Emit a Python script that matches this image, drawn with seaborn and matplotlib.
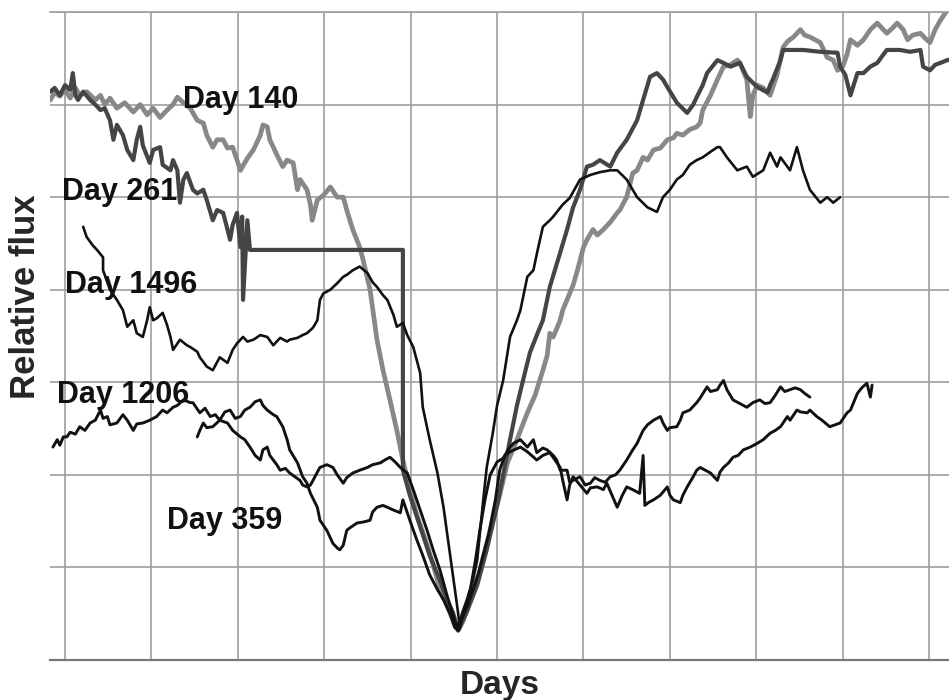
import matplotlib
matplotlib.use("Agg")
import matplotlib.pyplot as plt
import seaborn as sns

# Light curves (x: grid units of time, y: grid units of relative flux)
day140_x = [-0.17, -0.12, -0.06, 0.00, 0.06, 0.12, 0.17, 0.25, 0.35, 0.41, 0.46, 0.52, 0.60, 0.69, 0.79,
            0.87, 0.95, 1.02, 1.10, 1.18, 1.25, 1.30, 1.37, 1.45, 1.48, 1.53, 1.60, 1.64, 1.71, 1.76,
            1.83, 1.88, 1.94, 1.99, 2.03, 2.11, 2.18, 2.26, 2.29, 2.34, 2.37, 2.41, 2.45, 2.52, 2.57,
            2.64, 2.69, 2.72, 2.80, 2.84, 2.86, 2.92, 2.99, 3.07, 3.15, 3.22, 3.26, 3.33, 3.41, 3.45,
            3.53, 3.61, 3.68, 3.76, 3.84, 3.91, 3.99, 4.07, 4.17, 4.26, 4.34, 4.42, 4.51, 4.55,
            4.61, 4.69, 4.80, 4.92, 5.03, 5.12, 5.23, 5.35, 5.44, 5.53, 5.58, 5.61, 5.65, 5.73, 5.76,
            5.84, 5.88, 5.93, 6.00, 6.04, 6.11, 6.16, 6.23, 6.31, 6.39, 6.42, 6.50, 6.57, 6.62, 6.69,
            6.74, 6.81, 6.89, 6.97, 7.04, 7.08, 7.15, 7.23, 7.31, 7.35, 7.38, 7.47, 7.55, 7.62, 7.70,
            7.78, 7.81, 7.89, 7.93, 7.96, 8.01, 8.08, 8.16, 8.24, 8.31, 8.36, 8.43, 8.51, 8.56, 8.62,
            8.68, 8.74, 8.82, 8.89, 8.94, 9.00, 9.05, 9.09, 9.17, 9.24, 9.32, 9.40, 9.47, 9.51, 9.58,
            9.63, 9.70, 9.75, 9.81, 9.90, 9.95, 10.01, 10.07, 10.13, 10.21, 10.30]
day140_y = [6.05, 6.13, 6.09, 6.16, 6.07, 6.18, 6.10, 6.14, 6.05, 6.10, 6.00, 6.07, 5.96, 6.02, 5.92,
            6.00, 5.89, 5.96, 5.86, 5.94, 6.00, 6.08, 6.02, 5.96, 5.91, 5.83, 5.80, 5.67, 5.54, 5.62,
            5.62, 5.53, 5.54, 5.40, 5.29, 5.42, 5.51, 5.67, 5.78, 5.76, 5.62, 5.54, 5.46, 5.33, 5.40,
            5.37, 5.08, 5.19, 5.08, 4.92, 4.75, 4.97, 5.02, 5.11, 5.00, 5.00, 4.86, 4.65, 4.46, 4.32,
            4.00, 3.46, 3.13, 2.81, 2.48, 2.16, 1.84, 1.57, 1.30, 1.03, 0.76, 0.59, 0.38, 0.32,
            0.43, 0.65, 0.97, 1.40, 1.78, 2.13, 2.38, 2.67, 2.86, 3.13, 3.29, 3.53, 3.49, 3.67, 3.78,
            3.96, 4.05, 4.21, 4.46, 4.54, 4.65, 4.59, 4.65, 4.73, 4.83, 4.86, 5.00, 5.26, 5.29, 5.43,
            5.40, 5.51, 5.53, 5.62, 5.64, 5.69, 5.67, 5.73, 5.76, 5.80, 5.94, 6.10, 6.27, 6.41, 6.43,
            6.48, 6.45, 6.27, 5.87, 6.10, 6.21, 6.18, 6.10, 6.32, 6.62, 6.68, 6.73, 6.81, 6.75, 6.73,
            6.70, 6.67, 6.51, 6.48, 6.37, 6.41, 6.54, 6.70, 6.64, 6.70, 6.81, 6.88, 6.81, 6.77, 6.83,
            6.88, 6.81, 6.70, 6.75, 6.77, 6.72, 6.67, 6.81, 6.91, 7.02, 7.08]

day261_x = [-0.17, -0.12, -0.06, 0.00, 0.06, 0.09, 0.12, 0.15, 0.21, 0.29, 0.35, 0.41, 0.46, 0.52, 0.56,
            0.60, 0.67, 0.72, 0.79, 0.83, 0.87, 0.90, 0.98, 1.02, 1.10, 1.13, 1.22, 1.25, 1.30, 1.33,
            1.37, 1.41, 1.48, 1.53, 1.60, 1.64, 1.71, 1.76, 1.83, 1.88, 1.91, 1.94, 1.99, 2.03, 2.05,
            2.06, 2.11, 2.14, 3.91, 3.91, 3.99, 4.11, 4.22, 4.34, 4.42, 4.49, 4.55,
            4.65, 4.77, 4.88, 5.00, 5.07, 5.15, 5.23, 5.30, 5.38, 5.46, 5.53, 5.61, 5.73, 5.81, 5.88,
            5.96, 6.04, 6.11, 6.19, 6.31, 6.39, 6.50, 6.62, 6.69, 6.77, 6.85, 6.92, 6.97, 7.08, 7.20,
            7.27, 7.31, 7.38, 7.43, 7.55, 7.62, 7.70, 7.81, 7.89, 8.01, 8.13, 8.16, 8.19, 8.28, 8.31,
            8.54, 8.74, 8.94, 8.97, 9.03, 9.09, 9.17, 9.24, 9.32, 9.40, 9.47, 9.51, 9.66, 9.78, 9.90,
            9.93, 10.01, 10.07, 10.13, 10.21, 10.30]
day261_y = [6.14, 6.18, 6.10, 6.21, 6.16, 6.34, 6.10, 6.05, 6.14, 6.05, 6.00, 5.94, 5.96, 5.83, 5.62,
            5.78, 5.67, 5.51, 5.40, 5.62, 5.76, 5.56, 5.37, 5.51, 5.54, 5.35, 5.29, 5.40, 5.29, 4.94,
            5.19, 5.26, 5.08, 5.04, 5.08, 4.97, 4.75, 4.86, 4.83, 4.65, 4.54, 4.70, 4.83, 4.46, 4.79,
            3.89, 4.75, 4.43, 4.43, 2.05, 1.78, 1.44, 1.13, 0.86, 0.65, 0.51, 0.32,
            0.52, 0.81, 1.19, 1.67, 2.00, 2.38, 2.75, 3.02, 3.32, 3.51, 3.67, 4.03, 4.40, 4.65, 4.89,
            5.08, 5.33, 5.35, 5.40, 5.33, 5.48, 5.62, 5.83, 6.05, 6.30, 6.34, 6.27, 6.19, 6.02, 5.91,
            6.00, 6.08, 6.21, 6.34, 6.48, 6.45, 6.41, 6.45, 6.30, 6.19, 6.13, 6.21, 6.27, 6.48, 6.59,
            6.59, 6.57, 6.56, 6.41, 6.32, 6.10, 6.34, 6.34, 6.41, 6.45, 6.54, 6.59, 6.59, 6.57, 6.59,
            6.41, 6.37, 6.43, 6.45, 6.48, 6.50]

day1496_x = [0.21, 0.25, 0.32, 0.37, 0.44, 0.44, 0.52, 0.60, 0.67, 0.72, 0.79, 0.83, 0.90, 0.95, 0.98,
             1.02, 1.06, 1.13, 1.18, 1.22, 1.25, 1.33, 1.41, 1.45, 1.53, 1.56, 1.64, 1.71, 1.79, 1.88,
             1.94, 1.99, 2.06, 2.11, 2.18, 2.26, 2.34, 2.41, 2.49, 2.57, 2.60, 2.69, 2.75, 2.80, 2.87,
             2.92, 2.95, 2.99, 3.07, 3.15, 3.22, 3.26, 3.33, 3.41, 3.50, 3.56, 3.61, 3.68, 3.73, 3.80,
             3.84, 3.91, 3.96, 4.03, 4.11, 4.14, 4.22, 4.31, 4.38, 4.46, 4.54, 4.57,
             4.59, 4.65, 4.72, 4.77, 4.84, 4.88, 4.95, 5.00, 5.07, 5.15, 5.23, 5.27, 5.35, 5.42, 5.47,
             5.53, 5.61, 5.65, 5.76, 5.84, 5.96, 6.08, 6.19, 6.31, 6.39, 6.50, 6.62, 6.74, 6.85, 6.92,
             7.00, 7.08, 7.15, 7.23, 7.31, 7.38, 7.47, 7.55, 7.58, 7.66, 7.78, 7.89, 7.96, 8.08, 8.16,
             8.24, 8.28, 8.39, 8.47, 8.54, 8.62, 8.74, 8.82, 8.89, 8.97]
day1496_y = [4.68, 4.57, 4.48, 4.43, 4.35, 4.21, 4.00, 3.89, 3.78, 3.60, 3.67, 3.53, 3.49, 3.67, 3.81,
             3.67, 3.69, 3.75, 3.62, 3.49, 3.35, 3.46, 3.40, 3.38, 3.33, 3.27, 3.17, 3.13, 3.27, 3.21,
             3.35, 3.42, 3.49, 3.44, 3.46, 3.51, 3.49, 3.40, 3.48, 3.44, 3.46, 3.48, 3.51, 3.53, 3.59,
             3.67, 3.89, 3.96, 4.00, 4.07, 4.14, 4.16, 4.21, 4.25, 4.18, 4.08, 4.03, 3.94, 3.89, 3.73,
             3.60, 3.64, 3.51, 3.38, 3.10, 2.73, 2.38, 2.02, 1.65, 1.11, 0.57, 0.35,
             0.49, 0.65, 0.86, 1.08, 1.73, 2.08, 2.45, 2.75, 3.02, 3.49, 3.67, 3.78, 4.14, 4.21, 4.43,
             4.68, 4.75, 4.79, 4.92, 4.99, 5.19, 5.24, 5.27, 5.29, 5.29, 5.19, 5.00, 4.89, 4.84, 5.00,
             5.08, 5.19, 5.24, 5.35, 5.40, 5.43, 5.49, 5.54, 5.54, 5.43, 5.29, 5.33, 5.22, 5.29, 5.48,
             5.33, 5.43, 5.29, 5.54, 5.29, 5.08, 4.94, 5.00, 4.94, 5.00]

day1206_x = [-0.14, -0.09, -0.06, -0.02, 0.02, 0.06, 0.12, 0.17, 0.23, 0.29, 0.35, 0.41, 0.44, 0.49, 0.52,
             0.60, 0.67, 0.72, 0.79, 0.83, 0.90, 0.98, 1.06, 1.13, 1.18, 1.25, 1.30, 1.37, 1.45, 1.48,
             1.56, 1.62, 1.68, 1.74, 1.79, 1.85, 1.91, 1.97, 2.03, 2.08, 2.14, 2.20, 2.26, 2.29, 2.34,
             2.41, 2.45, 2.52, 2.57, 2.60, 2.69, 2.75, 2.80, 2.84, 2.92, 2.95, 3.03, 3.10, 3.15, 3.18,
             3.22, 3.26, 3.30, 3.38, 3.45, 3.53, 3.56, 3.61, 3.68, 3.73, 3.80, 3.88, 3.91, 3.99, 4.07,
             4.14, 4.22, 4.31, 4.38, 4.46, 4.51, 4.55,
             4.63, 4.69, 4.75, 4.80, 4.86, 4.92, 5.00, 5.07, 5.15, 5.19, 5.27, 5.35, 5.42, 5.46, 5.53,
             5.58, 5.65, 5.69, 5.73, 5.81, 5.84, 5.88, 5.96, 6.02, 6.08, 6.13, 6.19, 6.25, 6.31, 6.37,
             6.42, 6.50, 6.57, 6.62, 6.69, 6.74, 6.81, 6.89, 6.92, 6.97, 7.00, 7.08, 7.12, 7.15, 7.23,
             7.31, 7.35, 7.43, 7.47, 7.55, 7.58, 7.62, 7.66, 7.73, 7.81, 7.89, 7.96, 8.04, 8.10, 8.16,
             8.22, 8.28, 8.33, 8.39, 8.45, 8.51, 8.56, 8.62]
day1206_y = [2.30, 2.38, 2.32, 2.41, 2.41, 2.46, 2.44, 2.52, 2.48, 2.56, 2.59, 2.70, 2.61, 2.63, 2.54,
             2.56, 2.65, 2.59, 2.48, 2.55, 2.56, 2.59, 2.63, 2.70, 2.67, 2.73, 2.75, 2.81, 2.78, 2.78,
             2.67, 2.72, 2.63, 2.65, 2.59, 2.68, 2.70, 2.61, 2.63, 2.70, 2.73, 2.79, 2.81, 2.75, 2.70,
             2.65, 2.63, 2.52, 2.38, 2.27, 2.13, 1.98, 1.91, 1.80, 1.65, 1.51, 1.40, 1.26, 1.21, 1.19,
             1.24, 1.40, 1.43, 1.48, 1.49, 1.51, 1.60, 1.65, 1.67, 1.65, 1.62, 1.59, 1.73, 1.51, 1.30,
             1.13, 0.92, 0.76, 0.65, 0.49, 0.35, 0.32,
             0.54, 0.76, 1.08, 1.40, 1.73, 2.00, 2.14, 2.18, 2.30, 2.34, 2.38, 2.30, 2.38, 2.24, 2.29,
             2.27, 2.21, 2.16, 2.05, 2.05, 1.92, 1.94, 1.98, 1.89, 1.91, 1.97, 1.94, 1.92, 1.98, 2.00,
             2.05, 2.16, 2.27, 2.34, 2.48, 2.54, 2.59, 2.63, 2.56, 2.48, 2.51, 2.52, 2.59, 2.67, 2.70,
             2.78, 2.83, 2.95, 2.90, 2.92, 2.97, 3.02, 2.92, 2.81, 2.77, 2.73, 2.78, 2.81, 2.77, 2.78,
             2.86, 2.95, 2.90, 2.92, 2.94, 2.92, 2.88, 2.84]

day359_x = [1.53, 1.56, 1.60, 1.64, 1.71, 1.79, 1.88, 1.94, 2.03, 2.08, 2.14, 2.20, 2.26, 2.29, 2.34,
            2.37, 2.41, 2.45, 2.49, 2.55, 2.60, 2.66, 2.72, 2.75, 2.80, 2.84, 2.87, 2.92, 2.95, 3.03,
            3.10, 3.15, 3.22, 3.26, 3.33, 3.41, 3.50, 3.56, 3.65, 3.70, 3.76, 3.82, 3.88, 3.96, 4.03,
            4.11, 4.19, 4.26, 4.34, 4.42, 4.49, 4.54,
            4.66, 4.78, 4.90, 4.98, 5.03, 5.09, 5.15, 5.27, 5.35, 5.46, 5.53, 5.61, 5.67, 5.73, 5.76,
            5.81, 5.84, 5.88, 5.96, 6.04, 6.08, 6.16, 6.23, 6.27, 6.33, 6.39, 6.45, 6.50, 6.57, 6.65,
            6.69, 6.71, 6.75, 6.81, 6.89, 6.97, 7.00, 7.04, 7.12, 7.15, 7.20, 7.27, 7.31, 7.35, 7.41,
            7.47, 7.55, 7.58, 7.62, 7.68, 7.73, 7.79, 7.85, 7.93, 8.01, 8.08, 8.16, 8.22, 8.28, 8.36,
            8.39, 8.47, 8.51, 8.59, 8.62, 8.70, 8.76, 8.85, 8.91, 8.97, 9.05, 9.09, 9.17, 9.22, 9.28,
            9.32, 9.34]
day359_y = [2.41, 2.48, 2.56, 2.51, 2.52, 2.59, 2.56, 2.48, 2.41, 2.38, 2.30, 2.21, 2.16, 2.27, 2.30,
            2.21, 2.16, 2.11, 2.05, 2.07, 2.02, 1.98, 1.94, 1.89, 1.87, 1.89, 1.94, 2.03, 2.08, 2.11,
            2.08, 2.00, 1.91, 1.97, 2.02, 2.05, 2.08, 2.11, 2.13, 2.16, 2.19, 2.14, 2.08, 2.02, 1.84,
            1.62, 1.40, 1.19, 0.97, 0.70, 0.49, 0.35,
            0.59, 0.92, 1.35, 1.73, 2.05, 2.21, 2.25, 2.30, 2.25, 2.16, 2.21, 2.24, 2.16, 2.08, 1.94,
            1.73, 1.89, 1.98, 1.89, 1.80, 1.86, 1.87, 1.84, 1.91, 1.78, 1.65, 1.78, 1.87, 1.84, 1.80,
            2.21, 1.67, 1.70, 1.73, 1.78, 1.87, 1.78, 1.73, 1.70, 1.78, 1.87, 1.98, 2.05, 2.08, 2.05,
            2.02, 1.94, 2.03, 2.08, 2.13, 2.19, 2.21, 2.27, 2.30, 2.34, 2.38, 2.45, 2.48, 2.52, 2.63,
            2.59, 2.70, 2.68, 2.67, 2.70, 2.63, 2.59, 2.52, 2.54, 2.56, 2.67, 2.70, 2.88, 2.94, 2.99,
            2.84, 2.97]

curves = [
    ("Day 140", day140_x, day140_y, "#888888", 3.4),
    ("Day 261", day261_x, day261_y, "#454545", 3.0),
    ("Day 1496", day1496_x, day1496_y, "#111111", 1.9),
    ("Day 1206", day1206_x, day1206_y, "#111111", 2.1),
    ("Day 359", day359_x, day359_y, "#111111", 2.1),
]

# label text, left x, baseline y
label_names = ["Day 140", "Day 261", "Day 1496", "Day 1206", "Day 359"]
label_x = [1.37, -0.03, 0.00, -0.09, 1.18]
label_y = [5.96, 4.97, 3.96, 2.78, 1.42]

sns.set_theme(style="whitegrid")
plt.rcParams["font.family"] = ["Liberation Sans", "DejaVu Sans"]

fig = plt.figure(figsize=(9.49, 7), dpi=100)
ax = fig.add_axes([50 / 949, 40 / 700, 899 / 949, 648 / 700])

for name, xs, ys, col, lw in curves:
    sns.lineplot(x=xs, y=ys, sort=False, estimator=None, color=col, linewidth=lw, ax=ax)

for txt, lx, ly in zip(label_names, label_x, label_y):
    ax.text(lx, ly, txt, fontsize=22, fontweight="bold", ha="left", va="baseline", color="#111111")

ax.set_xlim(-0.174, 10.23)
ax.set_ylim(0, 7)
ax.set_xticks(range(0, 11))
ax.set_yticks(range(1, 8))
ax.set_xticklabels([])
ax.set_yticklabels([])
ax.tick_params(length=0)
ax.grid(True, color="#9e9e9e", linewidth=1.2)
ax.set_facecolor("white")
for side in ["left", "right"]:
    ax.spines[side].set_visible(False)
ax.spines["top"].set_color("#9e9e9e")
ax.spines["top"].set_linewidth(1.2)
ax.spines["bottom"].set_color("#777777")
ax.spines["bottom"].set_linewidth(1.6)

ax.set_xlabel("Days", fontsize=24, fontweight="bold", labelpad=4)
fig.text(26 / 949, 1 - 297 / 700, "Relative flux", rotation=90, fontsize=25, fontweight="bold",
         ha="center", va="center")

fig.savefig("out.png", dpi=100)
